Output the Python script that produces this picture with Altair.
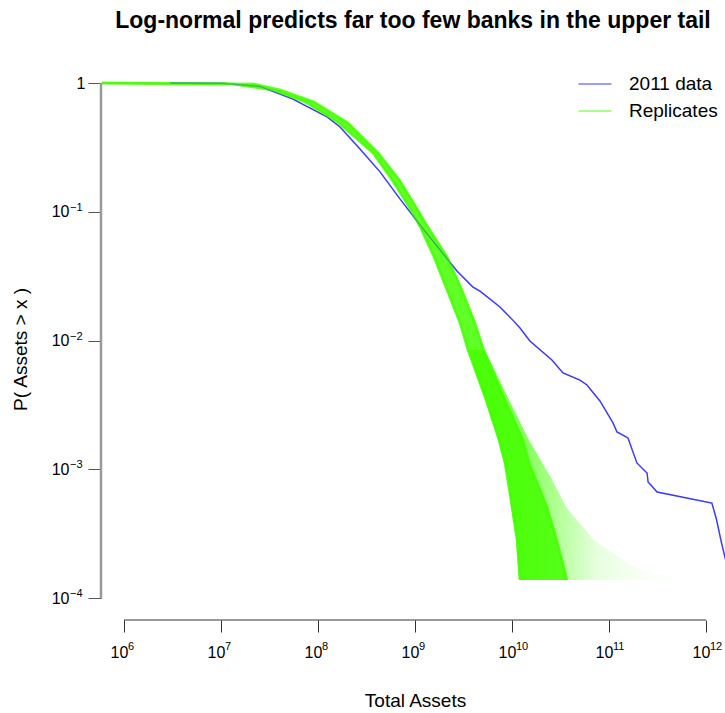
import altair as alt
import pandas as pd

# ---------------- values ----------------
# empirical CCDF of 2011 bank total assets (blue)
blue_assets = [3.0e6, 1.05e7, 2.52e7, 5.52e7, 1.24e8, 1.69e8, 2.71e8, 4.36e8, 7.0e8, 1.05e9,
               1.81e9, 2.71e9, 3.96e9, 4.68e9, 7.52e9, 1.02e10, 1.21e10, 1.53e10,
               2.58e10, 3.36e10, 5.02e10, 5.93e10, 8.07e10, 1.10e11, 1.21e11, 1.57e11, 1.94e11, 2.47e11,
               2.53e11, 3.13e11, 1.15e12, 1.28e12, 1.44e12, 1.80e12]
blue_prob = [1.0, 0.995, 0.94, 0.75, 0.545, 0.455, 0.307, 0.204, 0.126, 0.0845,
             0.0505, 0.0347, 0.0260, 0.0242, 0.0182, 0.0144, 0.0125, 0.00991,
             0.00706, 0.00560, 0.00493, 0.00451, 0.00339, 0.00229, 0.00195, 0.00175, 0.00112, 0.000935,
             0.000796, 0.000666, 0.000547, 0.000411, 0.000272, 0.000136]

# envelope of the log-normal replicates (green band): left / right edges at each probability level
edge_prob = [1.0, 0.982, 0.882, 0.712, 0.489, 0.286, 0.1764, 0.1088, 0.0775, 0.0445,
             0.0247, 0.01367, 0.00844, 0.00364, 0.00169, 0.001118, 0.000509, 0.000282, 0.000138]
left_assets = [5.9e5, 1.3e7, 3.45e7, 7.4e7, 1.64e8, 3.7e8, 5.8e8, 8.7e8, 1.12e9, 1.57e9,
               2.14e9, 2.91e9, 3.52e9, 5.27e9, 7.35e9, 8.47e9, 1.0e10, 1.13e10, 1.21e10]
right_assets = [5.9e5, 2.2e7, 4.1e7, 9.1e7, 2.05e8, 4.2e8, 6.9e8, 1.03e9, 1.34e9, 2.15e9,
                3.05e9, 4.15e9, 5.1e9, 8.2e9, 1.3e10, 1.5e10, 2.3e10, 2.9e10, 3.7e10]

# how far the thin, fading replicate tails reach on the right
fan_prob = [0.00844, 0.00364, 0.00169, 0.000825, 0.000509, 0.000282, 0.000174, 0.000138]
fan_lo = [3.52e9, 5.2e9, 7.2e9, 9.2e9, 9.8e9, 1.1e10, 1.15e10, 1.18e10]
fan_hi = [5.27e9, 9.0e9, 1.5e10, 2.6e10, 3.6e10, 7.0e10, 1.8e11, 6.0e11]

series_names = ["2011 data", "Replicates"]
x_ticks = [1e6, 1e7, 1e8, 1e9, 1e10, 1e11, 1e12]
x_exponents = ["6", "7", "8", "9", "10", "11", "12"]
y_ticks = [1e-4, 1e-3, 1e-2, 1e-1, 1.0]
y_exponents = ["\u22124", "\u22123", "\u22122", "\u22121"]

# ---------------- tables ----------------
blue_df = pd.DataFrame({"assets": blue_assets, "prob": blue_prob, "series": series_names[0]})
edge_df = pd.concat([
    pd.DataFrame({"assets": left_assets, "prob": edge_prob, "edge": "left"}),
    pd.DataFrame({"assets": right_assets, "prob": edge_prob, "edge": "right"}),
])
edge_df["series"] = series_names[1]
core_df = pd.DataFrame({"prob": edge_prob[1:], "lo": left_assets[1:], "hi": right_assets[1:]})
fan_df = pd.DataFrame({"prob": fan_prob, "lo": fan_lo, "hi": fan_hi})
yaxis_df = pd.DataFrame({"lo": [min(y_ticks)], "hi": [max(y_ticks)]})
xaxis_df = pd.DataFrame({"lo": [min(x_ticks)], "hi": [max(x_ticks)]})
xexp_df = pd.DataFrame({"value": x_ticks, "exp": x_exponents})
yexp_df = pd.DataFrame({"value": y_ticks[:4], "exp": y_exponents})

FONT = "Liberation Sans"
GREEN = "#44ff00"
W, H = 624, 560

xscale = alt.Scale(type="log", domain=[5.794e5, 1.571e12], nice=False)
yscale = alt.Scale(type="log", domain=[6.75e-5, 1.509], nice=False)

xaxis = alt.Axis(values=x_ticks, labelExpr="'10'", domain=False,
                 grid=False, tickSize=12, tickColor="#333333", tickWidth=1,
                 labelFont=FONT, labelFontSize=16, labelColor="black", labelPadding=12,
                 labelOffset=-5, labelFlush=False, labelOverlap=False,
                 title="Total Assets", titleFont=FONT, titleFontSize=19, titleFontWeight="normal",
                 titleColor="black", titleX=314, titleY=80, titleBaseline="middle", titleAlign="center")
yaxis = alt.Axis(values=y_ticks, labelExpr="datum.value == 1 ? '1' : '10'", domain=False,
                 grid=False, tickSize=13, tickColor="#555555", tickWidth=1,
                 labelFont=FONT, labelFontSize=16, labelColor="black",
                 labelPadding={"condition": {"test": "datum.value == 1", "value": 3}, "value": 19},
                 labelFlush=False, labelOverlap=False,
                 title="P( Assets > x )", titleFont=FONT, titleFontSize=19, titleFontWeight="normal",
                 titleColor="black", titleX=-81, titleY=289, titleAngle=270,
                 titleBaseline="middle", titleAlign="center")


def X(f):
    return alt.X(f, type="quantitative", scale=xscale, axis=xaxis)


def Y(f):
    return alt.Y(f, type="quantitative", scale=yscale, axis=yaxis)


cscale = alt.Scale(domain=series_names, range=["#2424ff", GREEN])
legend = alt.Legend(title=None, orient="none", legendX=480, legendY=10, padding=0,
                    symbolType="M-1.27,0H1.27", symbolSize=676, symbolStrokeWidth=1.5,
                    symbolOpacity=0.6, rowPadding=3, labelOffset=20,
                    labelFont=FONT, labelFontSize=19, labelColor="black")

fade = alt.Gradient(gradient="linear", x1=0, x2=1, y1=0, y2=0, stops=[
    alt.GradientStop(color="rgba(68,255,0,0.85)", offset=0),
    alt.GradientStop(color="rgba(68,255,0,0.6)", offset=0.3),
    alt.GradientStop(color="rgba(68,255,0,0.35)", offset=0.45),
    alt.GradientStop(color="rgba(68,255,0,0.12)", offset=0.6),
    alt.GradientStop(color="rgba(68,255,0,0.04)", offset=0.8),
    alt.GradientStop(color="rgba(68,255,0,0.0)", offset=1),
])

blue = alt.Chart(blue_df).mark_line(strokeWidth=1.4, opacity=0.85, clip=True).encode(
    x=X("assets"), y=Y("prob"),
    color=alt.Color("series:N", scale=cscale, legend=legend))
blue_through = alt.Chart(blue_df).mark_line(strokeWidth=1.3, opacity=0.3, clip=True).encode(
    x=X("assets"), y=Y("prob"),
    color=alt.Color("series:N", scale=cscale, legend=legend))
fan = alt.Chart(fan_df).mark_area(orient="horizontal", fill=fade, clip=True).encode(
    y=Y("prob"), x=X("lo"), x2="hi")
core = alt.Chart(core_df).mark_area(orient="horizontal", color=GREEN, opacity=0.85, clip=True).encode(
    y=Y("prob"), x=X("lo"), x2="hi")
edges = alt.Chart(edge_df).mark_line(strokeWidth=2.5, opacity=0.85, clip=True).encode(
    x=X("assets"), y=Y("prob"), detail="edge:N",
    color=alt.Color("series:N", scale=cscale, legend=legend))

yrule = alt.Chart(yaxis_df).mark_rule(color="#999999", strokeWidth=2.5).encode(
    x=alt.value(0), y=Y("lo"), y2="hi")
xrule = alt.Chart(xaxis_df).mark_rule(color="#333333", strokeWidth=1).encode(
    y=alt.value(H), x=X("lo"), x2="hi")
xexp = alt.Chart(xexp_df).mark_text(align="left", baseline="alphabetic", dx=4, font=FONT,
                                    fontSize=11, color="black").encode(
    x=X("value"), y=alt.value(H + 30), text="exp:N")
yexp = alt.Chart(yexp_df).mark_text(align="left", baseline="alphabetic", dy=-1, font=FONT,
                                    fontSize=11, color="black").encode(
    y=Y("value"), x=alt.value(-31), text="exp:N")

chart = alt.layer(blue, fan, core, edges, blue_through, yrule, xrule, xexp, yexp).properties(
    width=W, height=H,
    padding={"left": 101, "top": 60, "right": 0, "bottom": 93},
    autosize=alt.AutoSizeParams(type="none"),
    background="white",
    title=alt.TitleParams("Log-normal predicts far too few banks in the upper tail",
                          font=FONT, fontSize=23, fontWeight="bold", color="black",
                          anchor="middle", offset=27),
).configure_view(stroke=None)

chart.save("out.html", embed_options={"renderer": "svg", "actions": False})
